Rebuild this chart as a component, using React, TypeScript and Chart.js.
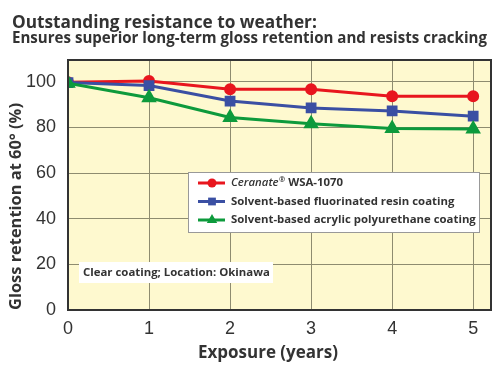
import React, { useEffect, useRef } from "react";
import { Chart, registerables } from "chart.js";

Chart.register(...registerables);

const years = [0, 1, 2, 3, 4, 5];
const ceranate = [99.8, 100.3, 96.7, 96.7, 93.6, 93.6];
const fluorinated = [99.6, 98.3, 91.5, 88.5, 87.2, 84.9];
const acrylic = [99.3, 93.0, 84.3, 81.6, 79.5, 79.3];
const yTicks = [0, 20, 40, 60, 80, 100];
const seriesNames = [
  "Ceranate",
  "Solvent-based fluorinated resin coating",
  "Solvent-based acrylic polyurethane coating",
];
const titleText = "Outstanding resistance to weather:";
const subtitleText = "Ensures superior long-term gloss retention and resists cracking";
const noteText = "Clear coating; Location: Okinawa";
const xTitle = "Exposure (years)";
const yTitle = "Gloss retention at 60° (%)";

const RED = "#e8161e";
const BLUE = "#3a4fa3";
const GREEN = "#0d9a3c";
const FAM = "'Open Sans', 'Noto Sans', sans-serif";
const TEXT = "#333";

function fitFont(ctx: any, text: string, style: string, target: number) {
  ctx.font = `${style} 20px ${FAM}`;
  const w = ctx.measureText(text).width;
  const size = (20 * target) / w;
  ctx.font = `${style} ${size.toFixed(2)}px ${FAM}`;
  return size;
}

function drawMarker(ctx: any, style: string, r: number, x: number, y: number, color: string) {
  ctx.save();
  ctx.fillStyle = color;
  ctx.beginPath();
  if (style === "circle") {
    ctx.arc(x, y, r, 0, Math.PI * 2);
  } else if (style === "rect") {
    const s = r * Math.SQRT1_2;
    ctx.rect(x - s, y - s, 2 * s, 2 * s);
  } else {
    ctx.moveTo(x, y - r);
    ctx.lineTo(x + r * 0.866, y + r * 0.5);
    ctx.lineTo(x - r * 0.866, y + r * 0.5);
    ctx.closePath();
  }
  ctx.fill();
  ctx.restore();
}

const decor = {
  id: "decor",
  beforeDraw(chart: any) {
    const { ctx, chartArea: a } = chart;
    ctx.save();
    ctx.fillStyle = "#fef9cf";
    ctx.fillRect(a.left, a.top, a.right - a.left, a.bottom - a.top);
    ctx.restore();
  },
  afterDatasetsDraw(chart: any) {
    const { ctx, chartArea: a } = chart;
    ctx.save();
    // frame
    ctx.strokeStyle = "#333";
    ctx.lineWidth = 2;
    ctx.strokeRect(a.left, a.top, a.right - a.left, a.bottom - a.top);

    // titles
    ctx.fillStyle = TEXT;
    ctx.textBaseline = "alphabetic";
    ctx.textAlign = "left";
    fitFont(ctx, titleText, "bold", 305);
    ctx.fillText(titleText, 12, 28);
    fitFont(ctx, subtitleText, "bold", 475);
    ctx.fillText(subtitleText, 12, 43);

    // axis titles
    ctx.textAlign = "center";
    fitFont(ctx, xTitle, "bold", 140);
    ctx.fillText(xTitle, 268, 358);
    ctx.save();
    ctx.translate(21, 206.5);
    ctx.rotate(-Math.PI / 2);
    fitFont(ctx, yTitle, "bold", 207);
    ctx.fillText(yTitle, 0, 0);
    ctx.restore();
    ctx.textAlign = "left";

    // note box
    const nx = a.left + 11;
    const ny = a.bottom - 48;
    ctx.fillStyle = "#fff";
    ctx.fillRect(nx, ny, 194, 21);
    ctx.fillStyle = TEXT;
    ctx.textBaseline = "middle";
    fitFont(ctx, noteText, "bold", 187);
    ctx.fillText(noteText, nx + 4, ny + 11);

    // legend
    const lx = a.left + 120;
    const ly = a.top + 112;
    const lw = 291;
    const lh = 60;
    ctx.fillStyle = "#fff";
    ctx.fillRect(lx, ly, lw, lh);
    ctx.strokeStyle = "#999";
    ctx.lineWidth = 1;
    ctx.strokeRect(lx + 0.5, ly + 0.5, lw, lh);
    const colors = [RED, BLUE, GREEN];
    const styles = ["circle", "rect", "triangle"];
    const radii = [4.5, 5.5, 6];
    ctx.font = `bold 12px ${FAM}`;
    const size = fitFont(ctx, seriesNames[2], "bold", 245);
    for (let i = 0; i < 3; i++) {
      const y = ly + 11 + i * 18.5;
      ctx.strokeStyle = colors[i];
      ctx.lineWidth = 3;
      ctx.beginPath();
      ctx.moveTo(lx + 10, y);
      ctx.lineTo(lx + 37, y);
      ctx.stroke();
      drawMarker(ctx, styles[i], radii[i], lx + 24, y, colors[i]);
      ctx.fillStyle = TEXT;
      ctx.textBaseline = "middle";
      let tx = lx + 43;
      if (i === 0) {
        ctx.font = `italic 600 ${size}px ${FAM}`;
        ctx.fillText(seriesNames[0], tx, y);
        tx += ctx.measureText(seriesNames[0]).width + 0.5;
        ctx.font = `bold ${size * 0.65}px ${FAM}`;
        ctx.fillText("®", tx, y - 3);
        tx += ctx.measureText("®").width + 3;
        ctx.font = `bold ${size}px ${FAM}`;
        ctx.fillText("WSA-1070", tx, y);
      } else {
        ctx.font = `bold ${size}px ${FAM}`;
        ctx.fillText(seriesNames[i], tx, y);
      }
    }
    ctx.restore();
  },
};

export default function App() {
  const ref = useRef<HTMLCanvasElement>(null);
  useEffect(() => {
    const mk = (vals: number[]) => years.map((x, i) => ({ x, y: vals[i] }));
    const chart = new Chart(ref.current!, {
      type: "line",
      data: {
        datasets: [
          {
            label: seriesNames[2],
            data: mk(acrylic),
            borderColor: GREEN,
            backgroundColor: GREEN,
            pointStyle: "triangle",
            pointRadius: 6,
            borderWidth: 3,
          },
          {
            label: seriesNames[1],
            data: mk(fluorinated),
            borderColor: BLUE,
            backgroundColor: BLUE,
            pointStyle: "rect",
            pointRadius: 5.5,
            borderWidth: 3,
          },
          {
            label: seriesNames[0],
            data: mk(ceranate),
            borderColor: RED,
            backgroundColor: RED,
            pointStyle: "circle",
            pointRadius: 4.5,
            borderWidth: 3,
          },
        ],
      },
      options: {
        animation: false,
        responsive: false,
        maintainAspectRatio: false,
        layout: { padding: { top: 60, right: 9, left: 0, bottom: 0 } },
        plugins: { legend: { display: false }, tooltip: { enabled: false } },
        elements: { point: { borderWidth: 0 }, line: { tension: 0 } },
        scales: {
          x: {
            type: "linear",
            min: 0,
            max: 5.22,
            afterBuildTicks: (s: any) => {
              s.ticks = years.map((v) => ({ value: v }));
            },
            afterFit: (s: any) => {
              s.height = 66;
            },
            grid: { color: "#8e8c70", lineWidth: 1, drawTicks: false },
            border: { display: false },
            ticks: {
              padding: 8,
              color: TEXT,
              font: { family: "'Liberation Sans', sans-serif", size: 18 },
            },
          },
          y: {
            min: 0,
            max: 109.5,
            afterBuildTicks: (s: any) => {
              s.ticks = yTicks.map((v) => ({ value: v }));
            },
            afterFit: (s: any) => {
              s.width = 68;
            },
            grid: { color: "#8e8c70", lineWidth: 1, drawTicks: false },
            border: { display: false },
            ticks: {
              padding: 12,
              color: TEXT,
              font: { family: "'Liberation Sans', sans-serif", size: 18 },
            },
          },
        },
      },
      plugins: [decor],
    });
    return () => chart.destroy();
  }, []);
  return (
    <div style={{ position: "fixed", left: 0, top: 0, width: 500, height: 376, background: "#fff" }}>
      <canvas ref={ref} width={500} height={376} style={{ width: 500, height: 376 }} />
    </div>
  );
}
